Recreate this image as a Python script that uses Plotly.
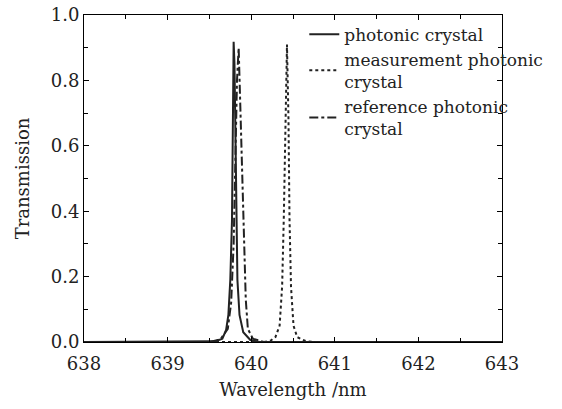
import plotly.graph_objects as go

# photonic crystal (solid)
pc_x = [638.0, 639.45, 639.57, 639.655, 639.70, 639.727, 639.75, 639.77, 639.78, 639.79,
        639.80, 639.81, 639.82, 639.835, 639.86, 639.905, 639.99, 640.1, 643.0]
pc_y = [0.0, 0.0, 0.002, 0.01, 0.037, 0.083, 0.19, 0.37, 0.68, 0.918,
        0.85, 0.68, 0.37, 0.19, 0.083, 0.03, 0.006, 0.0, 0.0]

# measurement photonic crystal (dotted)
mp_x = [638.0, 640.15, 640.23, 640.29, 640.34, 640.37, 640.39, 640.41, 640.428,
        640.446, 640.458, 640.476, 640.506, 640.55, 640.65, 640.75, 643.0]
mp_y = [0.0, 0.0, 0.004, 0.015, 0.05, 0.17, 0.38, 0.68, 0.91,
        0.68, 0.38, 0.17, 0.05, 0.015, 0.003, 0.0, 0.0]

# reference photonic crystal (dash-dot)
rp_x = [638.0, 639.5, 639.63, 639.72, 639.76, 639.79, 639.81, 639.83, 639.85,
        639.87, 639.89, 639.91, 639.935, 639.96, 640.02, 640.15, 643.0]
rp_y = [0.0, 0.0, 0.008, 0.04, 0.12, 0.3, 0.55, 0.8, 0.9,
        0.72, 0.5, 0.28, 0.13, 0.04, 0.01, 0.0, 0.0]

names = ["photonic crystal", "measurement photonic<br>crystal", "reference photonic<br>crystal"]

FONT = "DejaVu Serif"

fig = go.Figure()
fig.add_trace(go.Scatter(x=pc_x, y=pc_y, mode="lines", name=names[0],
                         line=dict(color="#222222", width=2, dash="solid")))
fig.add_trace(go.Scatter(x=mp_x, y=mp_y, mode="lines", name=names[1],
                         line=dict(color="#222222", width=2, dash="dot")))
fig.add_trace(go.Scatter(x=rp_x, y=rp_y, mode="lines", name=names[2],
                         line=dict(color="#222222", width=2, dash="dashdot")))

axis_common = dict(showgrid=False, zeroline=False, showline=True, linecolor="black",
                   linewidth=1, ticks="inside", ticklen=5, tickcolor="black",
                   mirror="allticks", automargin=False,
                   tickfont=dict(family=FONT, size=18, color="#222222"))

fig.update_xaxes(range=[638, 643], dtick=1, tick0=638, ticklabelstandoff=5,
                 minor=dict(dtick=0.5, ticks="inside", ticklen=4, tickcolor="black"),
                 title=dict(text="Wavelength /nm", font=dict(family=FONT, size=18, color="#222222"),
                            standoff=10),
                 **axis_common)
fig.update_yaxes(range=[0, 1.0], dtick=0.2, tick0=0, tickformat=".1f",
                 minor=dict(dtick=0.1, ticks="inside", ticklen=4, tickcolor="black"),
                 title=dict(text="Transmission", font=dict(family=FONT, size=18, color="#222222"),
                            standoff=16),
                 **axis_common)

fig.update_layout(
    width=562, height=409,
    margin=dict(l=84, r=60, t=15, b=67, autoexpand=False),
    plot_bgcolor="white", paper_bgcolor="white",
    font=dict(family=FONT, size=18, color="#222222"),
    showlegend=True,
    legend=dict(x=0.527, y=0.995, xanchor="left", yanchor="top",
                bgcolor="rgba(0,0,0,0)", borderwidth=0,
                font=dict(family=FONT, size=17, color="#222222"),
                tracegroupgap=0, itemwidth=30),
)

fig.write_html("out.html")
